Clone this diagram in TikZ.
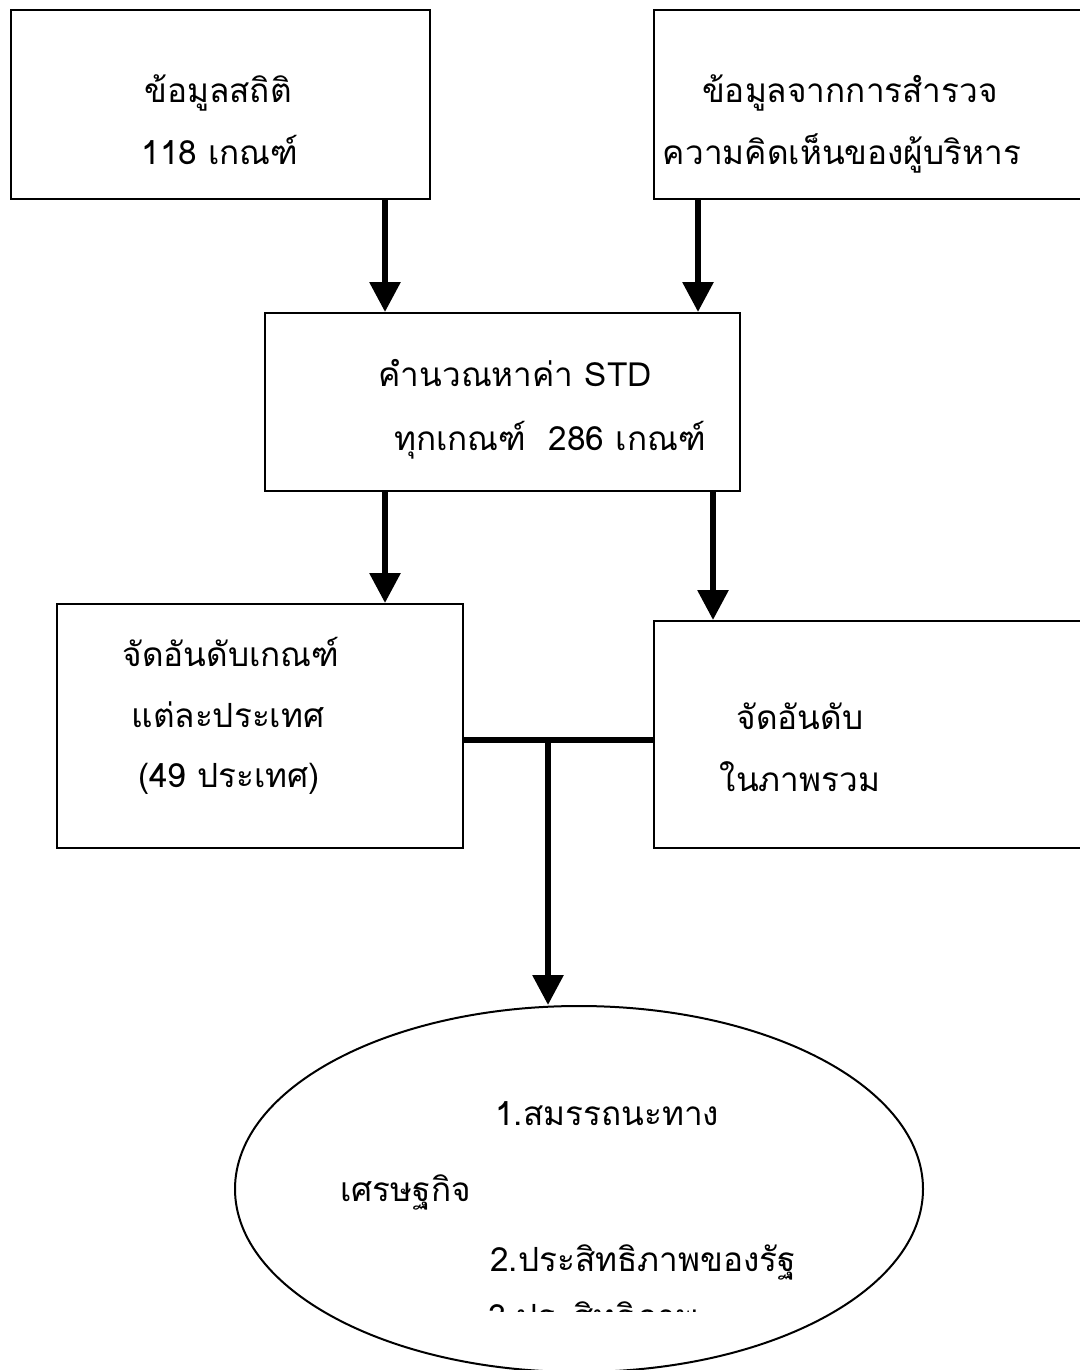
\documentclass[tikz,border=0pt]{standalone}
\usepackage{fontspec}
\newfontfamily\thaifont[Script=Thai]{Loma}
\usetikzlibrary{arrows.meta,shapes.geometric,fit}
\begin{document}
\begin{tikzpicture}[x=0.75pt,y=-0.75pt,
  box/.style={draw,line width=1.5pt,inner sep=0pt,rectangle},
  txt/.style={font=\thaifont\fontsize{25}{29}\selectfont,inner sep=0pt,anchor=base},
  txtw/.style={txt,anchor=base west},
  flow/.style={line width=4.5pt,-{Triangle[width=22.5pt,length=22.5pt]}},
  bar/.style={line width=4.5pt}]
\useasboundingbox (0,0) rectangle (1079,1370);
\fill[white] (0,0) rectangle (1079,1370);

% boxes
\node[box, fit={(11,10) (430,199)}] (b1) {};
\node[box, fit={(654,10) (1081,199)}] (b2) {};
\node[box, fit={(265,313) (740,491)}] (b3) {};
\node[box, fit={(57,604) (463,848)}] (b4) {};
\node[box, fit={(654,621) (1081,848)}] (b5) {};
\node[draw, ellipse, line width=1.5pt, inner sep=0pt,
      minimum width=516pt, minimum height=274.5pt] (el) at (579,1189) {};

% box texts
\node[txt] (t11) at (218,103) {ข้อมูลสถิติ};
\node[txt] (t12) at (220,164) {118 เกณฑ์};
\node[txt] (t21) at (850,103) {ข้อมูลจากการสำรวจ};
\node[txt] (t22) at (842,164) {ความคิดเห็นของผู้บริหาร};
\node[txt] (t31) at (515,386) {คำนวณหาค่า STD};
\node[txt] (t32) at (550,450) {ทุกเกณฑ์~~286 เกณฑ์};
\node[txt] (t41) at (231,666) {จัดอันดับเกณฑ์};
\node[txt] (t42) at (228,727) {แต่ละประเทศ};
\node[txt] (t43) at (229,787) {(49 ประเทศ)};
\node[txt] (t51) at (800,729) {จัดอันดับ};
\node[txt] (t52) at (800,791) {ในภาพรวม};

% ellipse texts
\node[txtw] (e1) at (495,1125) {1.สมรรถนะทาง};
\node[txtw] (e2) at (340,1201) {เศรษฐกิจ};
\node[txtw] (e3) at (490,1271) {2.ประสิทธิภาพของรัฐ};
\begin{scope}
  \clip (0,0) rectangle (1079,1311);
  \node[txtw] (e4) at (488,1328) {3.ประสิทธิภาพ};
\end{scope}

% connectors
\coordinate (xa) at (385,0);
\coordinate (xb) at (698,0);
\coordinate (xc) at (713,0);
\coordinate (j) at (548,740);
\draw[flow] (b1.south -| xa) -- (b3.north -| xa);
\draw[flow] (b2.south -| xb) -- (b3.north -| xb);
\draw[flow] (b3.south -| xa) -- (b4.north -| xa);
\draw[flow] (b3.south -| xc) -- (b5.north -| xc);
\draw[bar] (b4.east |- j) -- (b5.west |- j);
\draw[flow] (j) -- (j |- el.north);
\end{tikzpicture}
\end{document}
